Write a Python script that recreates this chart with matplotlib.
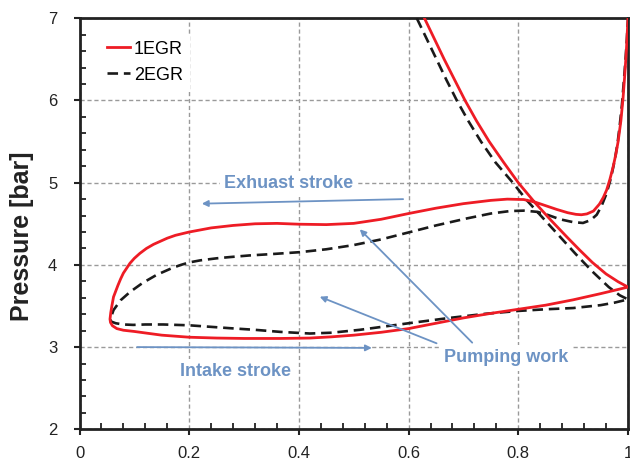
import matplotlib.pyplot as plt
from matplotlib.ticker import MultipleLocator

plt.rcParams['font.family'] = ['Liberation Sans', 'DejaVu Sans']

# 1EGR loop: compression line down to BDC, intake back to TDC, exhaust out to the right edge
egr1_x = [0.629, 0.647, 0.665, 0.684, 0.703, 0.724, 0.747, 0.773, 0.800, 0.830, 0.860, 0.890,
          0.912, 0.935, 0.96, 0.982, 1.0,
          0.95, 0.9, 0.85, 0.8, 0.75, 0.7, 0.65, 0.6, 0.55, 0.5, 0.46, 0.42, 0.366, 0.3, 0.25,
          0.2, 0.15, 0.122, 0.1, 0.08, 0.068, 0.06, 0.0565, 0.0556,
          0.057, 0.059, 0.062, 0.066, 0.07, 0.075, 0.08, 0.085, 0.092, 0.1, 0.11, 0.122, 0.135,
          0.15, 0.16, 0.175, 0.2, 0.24, 0.28, 0.32, 0.36, 0.40, 0.45, 0.50, 0.55, 0.60, 0.65,
          0.70, 0.75, 0.78, 0.81, 0.83, 0.85, 0.87, 0.89, 0.905, 0.915, 0.925, 0.937, 0.948,
          0.955, 0.961, 0.967, 0.973, 0.978, 0.982, 0.987, 0.991, 0.994, 0.997, 1.0]
egr1_p = [7.0, 6.75, 6.5, 6.25, 6.0, 5.75, 5.5, 5.25, 5.0, 4.76, 4.54, 4.33,
          4.18, 4.03, 3.89, 3.795, 3.73,
          3.65, 3.575, 3.51, 3.46, 3.41, 3.355, 3.29, 3.225, 3.18, 3.145, 3.125, 3.11, 3.105,
          3.105, 3.11, 3.12, 3.145, 3.17, 3.19, 3.205, 3.225, 3.26, 3.30, 3.34,
          3.42, 3.5, 3.61, 3.68, 3.75, 3.83, 3.9, 3.95, 4.02, 4.08, 4.14, 4.2, 4.25,
          4.295, 4.325, 4.36, 4.40, 4.45, 4.48, 4.50, 4.505, 4.495, 4.49, 4.505, 4.555, 4.625,
          4.69, 4.745, 4.785, 4.80, 4.795, 4.765, 4.72, 4.675, 4.635, 4.615, 4.61, 4.62, 4.655,
          4.74, 4.82, 4.91, 5.04, 5.195, 5.35, 5.5, 5.75, 6.03, 6.3, 6.6, 7.0]

# 2EGR loop, same order
egr2_x = [0.615, 0.633, 0.651, 0.669, 0.688, 0.709, 0.732, 0.758, 0.79, 0.815, 0.845, 0.875,
          0.905, 0.935, 0.965, 0.985, 1.0,
          0.975, 0.95, 0.9, 0.85, 0.8, 0.74, 0.675, 0.6, 0.55, 0.511, 0.46, 0.42, 0.366, 0.32,
          0.274, 0.2, 0.153, 0.12, 0.098, 0.08, 0.066, 0.058, 0.056,
          0.062, 0.075, 0.092, 0.115, 0.141, 0.17, 0.185, 0.2, 0.22, 0.25, 0.274, 0.31, 0.347,
          0.402, 0.45, 0.499, 0.55, 0.603, 0.65, 0.706, 0.75, 0.785, 0.81, 0.835, 0.855, 0.876,
          0.9, 0.918, 0.932, 0.943, 0.952, 0.961, 0.969, 0.976, 0.981, 0.985, 0.989, 0.992,
          0.995, 0.998, 1.0]
egr2_p = [7.0, 6.75, 6.5, 6.25, 6.0, 5.75, 5.5, 5.25, 5.0, 4.79, 4.57, 4.35,
          4.13, 3.92, 3.73, 3.63, 3.58,
          3.54, 3.51, 3.475, 3.46, 3.44, 3.405, 3.355, 3.29, 3.245, 3.21, 3.175, 3.165, 3.185,
          3.21, 3.23, 3.265, 3.275, 3.275, 3.27, 3.275, 3.29, 3.31, 3.335,
          3.45, 3.57, 3.67, 3.78, 3.88, 3.965, 4.0, 4.03, 4.055, 4.08, 4.095, 4.115, 4.13,
          4.155, 4.19, 4.24, 4.31, 4.40, 4.48, 4.565, 4.625, 4.655, 4.66, 4.645, 4.605, 4.555,
          4.52, 4.51, 4.545, 4.61, 4.72, 4.87, 5.06, 5.28, 5.48, 5.7, 5.95, 6.2,
          6.45, 6.75, 7.0]

xticks = [0, 0.2, 0.4, 0.6, 0.8, 1.0]
xticklabels = ['0', '0.2', '0.4', '0.6', '0.8', '1']
yticks = [2, 3, 4, 5, 6, 7]

note_color = '#6d93c4'
ink = '#222222'

fig = plt.figure(figsize=(6.3, 4.61), dpi=100)
ax = fig.add_axes([0.1262, 0.0688, 0.8706, 0.8915])

ax.plot(egr1_x, egr1_p, color='#ee1c25', lw=2.0, label='1EGR', zorder=4,
        solid_joinstyle='round')
ax.plot(egr2_x, egr2_p, color='#1a1a1a', lw=1.9, dashes=(4, 2.2), label='2EGR', zorder=3,
        dash_joinstyle='round')

ax.set_xlim(0, 1)
ax.set_ylim(2, 7)
ax.set_xticks(xticks)
ax.set_xticklabels(xticklabels)
ax.set_yticks(yticks)
ax.xaxis.set_minor_locator(MultipleLocator(0.04))
ax.yaxis.set_minor_locator(MultipleLocator(0.2))
ax.tick_params(which='major', direction='out', length=4, width=1.5, color=ink,
               labelsize=12, labelcolor=ink)
ax.tick_params(axis='x', which='major', pad=8)
ax.tick_params(axis='y', which='major', pad=12)
ax.tick_params(which='minor', direction='in', length=4, width=1.3, color=ink)
for s in ax.spines.values():
    s.set_linewidth(2)
    s.set_color(ink)

ax.grid(True, which='major', color='#9a9a9a', lw=1.0, linestyle=(0, (3, 2)), zorder=0)
ax.set_axisbelow(True)

ax.set_ylabel('Pressure [bar]', fontsize=18, fontweight='bold', color=ink)
ax.yaxis.set_label_coords(-0.083, 0.47)

leg = ax.legend(loc='upper left', bbox_to_anchor=(0.037, 0.963), fontsize=13,
                handlelength=1.3, handletextpad=0.2, labelspacing=0.5,
                frameon=True, fancybox=False, borderaxespad=0)
leg.get_frame().set_facecolor('white')
leg.get_frame().set_edgecolor('none')
leg.get_frame().set_alpha(1)

box = dict(boxstyle='square,pad=0.25', facecolor='white', edgecolor='none')
ax.text(0.382, 4.99, 'Exhuast stroke', color=note_color, fontsize=13, fontweight='bold',
        ha='center', va='center', bbox=box, zorder=2)
ax.text(0.284, 2.70, 'Intake stroke', color=note_color, fontsize=13, fontweight='bold',
        ha='center', va='center', bbox=box, zorder=2)
ax.text(0.777, 2.87, 'Pumping work', color=note_color, fontsize=13, fontweight='bold',
        ha='center', va='center', bbox=box, zorder=2)

arrow = dict(arrowstyle='-|>', color=note_color, lw=1.3, mutation_scale=9,
             shrinkA=0, shrinkB=0)
ax.annotate('', xy=(0.223, 4.745), xytext=(0.590, 4.80), arrowprops=arrow, zorder=5)
ax.annotate('', xy=(0.533, 2.99), xytext=(0.105, 3.0), arrowprops=arrow, zorder=5)
ax.annotate('', xy=(0.438, 3.613), xytext=(0.651, 3.046), arrowprops=arrow, zorder=5)
ax.annotate('', xy=(0.511, 4.433), xytext=(0.716, 3.054), arrowprops=arrow, zorder=5)

fig.savefig('out.png', dpi=100)
